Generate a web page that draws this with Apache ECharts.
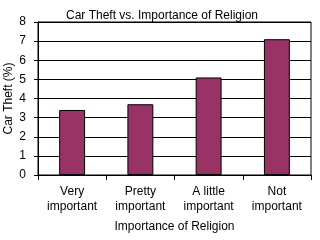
<!DOCTYPE html>
<html><head><meta charset="utf-8">
<script src="https://cdn.jsdelivr.net/npm/echarts@6/dist/echarts.min.js"></script>
<style>html,body{margin:0;padding:0;background:#fff}#c{width:320px;height:240px}</style>
</head><body><div id="c"></div>
<script>
const categories = ["Very\nimportant", "Pretty\nimportant", "A little\nimportant", "Not\nimportant"];
const carTheft = [3.4, 3.7, 5.1, 7.1];
const yTicks = [0, 1, 2, 3, 4, 5, 6, 7, 8];

const font = "Liberation Sans, Arial, sans-serif";
const chart = echarts.init(document.getElementById('c'), null, {renderer: 'canvas'});
chart.setOption({
  animation: false,
  backgroundColor: '#fff',
  title: {
    text: 'Car Theft vs. Importance of Religion',
    left: 157, top: 5, textAlign: 'center',
    textStyle: {fontFamily: font, fontSize: 12, fontWeight: 'normal', color: '#000'}
  },
  grid: {left: 38, right: 9, top: 22, bottom: 65, outerBoundsMode: 'none', containLabel: false,
         show: true, borderColor: '#000', borderWidth: 1, backgroundColor: 'transparent'},
  xAxis: {
    type: 'category', data: categories,
    name: 'Importance of Religion', nameLocation: 'middle', nameGap: 46, nameMoveOverlap: false,
    nameTextStyle: {fontFamily: font, fontSize: 12, color: '#000'},
    axisLine: {lineStyle: {color: '#000', width: 1}},
    axisTick: {show: true, length: 5, lineStyle: {color: '#000'}},
    axisLabel: {fontFamily: font, fontSize: 12, color: '#000', margin: 9, lineHeight: 15, interval: 0}
  },
  yAxis: {
    type: 'value', min: yTicks[0], max: yTicks[yTicks.length - 1], interval: 1,
    name: 'Car Theft (%)', nameLocation: 'middle', nameGap: 23, nameRotate: 90, nameMoveOverlap: false,
    nameTextStyle: {fontFamily: font, fontSize: 12, color: '#000'},
    axisLine: {show: true, lineStyle: {color: '#000', width: 1}},
    axisTick: {show: true, length: 4, lineStyle: {color: '#000'}},
    splitLine: {lineStyle: {color: '#000', width: 1}},
    axisLabel: {fontFamily: font, fontSize: 12, color: '#000', margin: 12}
  },
  series: [{
    type: 'bar', data: carTheft, barWidth: '38%',
    itemStyle: {color: '#993366', borderColor: '#000', borderWidth: 1}
  }]
});
</script></body></html>
